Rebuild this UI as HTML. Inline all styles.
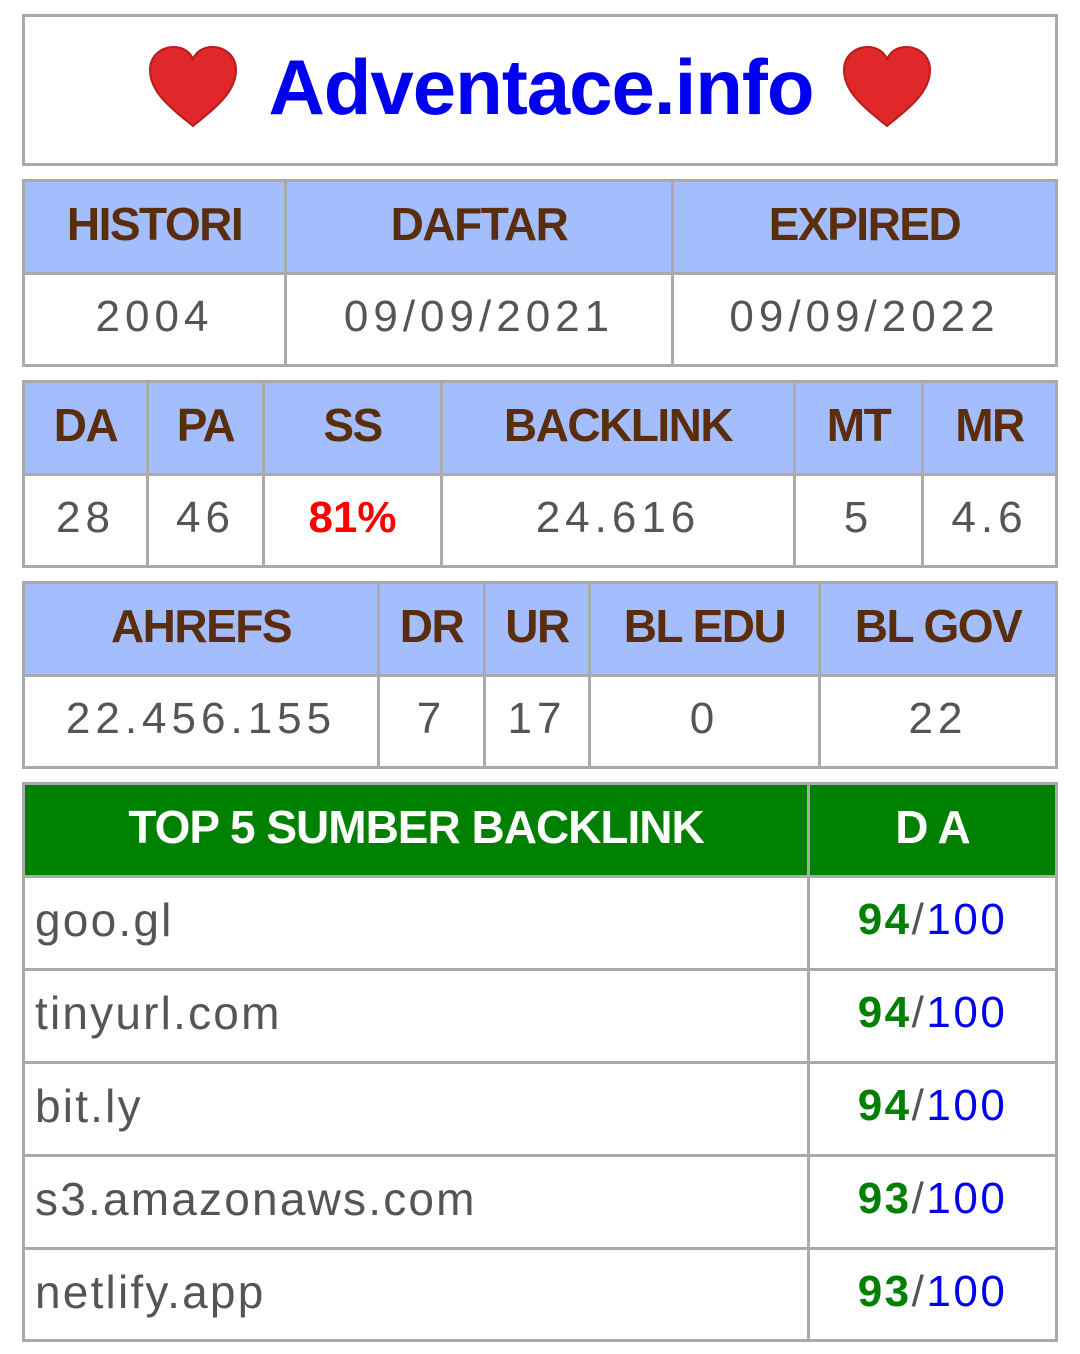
<!DOCTYPE html>
<html><head><meta charset="utf-8"><style>
html,body{margin:0;padding:0;background:#fff;width:1080px;height:1354px;overflow:hidden}
.c{position:absolute;box-sizing:border-box;border:3px solid #aaa;display:flex;align-items:center;justify-content:center;font-family:"Liberation Sans",sans-serif;white-space:nowrap;padding-bottom:6px}
.h{background:#a4bdfc;color:#5a2d0c;font-weight:bold;font-size:46px;letter-spacing:-1.5px}
.d{background:#fff;color:#555;font-size:44px;letter-spacing:5px}
.g{background:#008000;color:#fff;font-weight:bold;font-size:46px;letter-spacing:-1px}
.l{justify-content:flex-start;padding-left:10px;letter-spacing:2.2px;font-size:46px}
.v{letter-spacing:2.5px}
.v b{color:#008000}.v i{font-style:normal;color:#0000ee}.v s{text-decoration:none;color:#555}
</style></head><body>
<div class="c" style="left:22px;top:14px;width:1036px;height:152px">
<svg width="90" height="82" viewBox="0 0 90 82" style="margin-right:30px"><path d="M45 80 C20 60 2 45 2 24 C2 10 13 1 26 1 C35 1 42 6 45 13 C48 6 55 1 64 1 C77 1 88 10 88 24 C88 45 70 60 45 80Z" fill="#e0282a" stroke="#b81c1c" stroke-width="2"/></svg>
<span style="color:#0000ee;font-weight:bold;font-size:78px;letter-spacing:-1px">Adventace.info</span>
<svg width="90" height="82" viewBox="0 0 90 82" style="margin-left:28px"><path d="M45 80 C20 60 2 45 2 24 C2 10 13 1 26 1 C35 1 42 6 45 13 C48 6 55 1 64 1 C77 1 88 10 88 24 C88 45 70 60 45 80Z" fill="#e0282a" stroke="#b81c1c" stroke-width="2"/></svg>
</div>

<div class="c h" style="left:22px;top:179px;width:265px;height:96px">HISTORI</div>
<div class="c h" style="left:284px;top:179px;width:390px;height:96px">DAFTAR</div>
<div class="c h" style="left:671px;top:179px;width:387px;height:96px">EXPIRED</div>
<div class="c d" style="left:22px;top:272px;width:265px;height:95px">2004</div>
<div class="c d" style="left:284px;top:272px;width:390px;height:95px">09/09/2021</div>
<div class="c d" style="left:671px;top:272px;width:387px;height:95px">09/09/2022</div>

<div class="c h" style="left:22px;top:380px;width:127px;height:96px">DA</div>
<div class="c h" style="left:146px;top:380px;width:119px;height:96px">PA</div>
<div class="c h" style="left:262px;top:380px;width:181px;height:96px">SS</div>
<div class="c h" style="left:440px;top:380px;width:356px;height:96px">BACKLINK</div>
<div class="c h" style="left:793px;top:380px;width:131px;height:96px">MT</div>
<div class="c h" style="left:921px;top:380px;width:137px;height:96px">MR</div>
<div class="c d" style="left:22px;top:473px;width:127px;height:95px">28</div>
<div class="c d" style="left:146px;top:473px;width:119px;height:95px">46</div>
<div class="c d" style="left:262px;top:473px;width:181px;height:95px;color:#f00;font-weight:bold;letter-spacing:0">81%</div>
<div class="c d" style="left:440px;top:473px;width:356px;height:95px">24.616</div>
<div class="c d" style="left:793px;top:473px;width:131px;height:95px">5</div>
<div class="c d" style="left:921px;top:473px;width:137px;height:95px">4.6</div>

<div class="c h" style="left:22px;top:581px;width:358px;height:96px">AHREFS</div>
<div class="c h" style="left:377px;top:581px;width:109px;height:96px">DR</div>
<div class="c h" style="left:483px;top:581px;width:108px;height:96px">UR</div>
<div class="c h" style="left:588px;top:581px;width:233px;height:96px">BL EDU</div>
<div class="c h" style="left:818px;top:581px;width:240px;height:96px">BL GOV</div>
<div class="c d" style="left:22px;top:674px;width:358px;height:95px">22.456.155</div>
<div class="c d" style="left:377px;top:674px;width:109px;height:95px">7</div>
<div class="c d" style="left:483px;top:674px;width:108px;height:95px">17</div>
<div class="c d" style="left:588px;top:674px;width:233px;height:95px">0</div>
<div class="c d" style="left:818px;top:674px;width:240px;height:95px">22</div>

<div class="c g" style="left:22px;top:782px;width:788px;height:96px">TOP 5 SUMBER BACKLINK</div>
<div class="c g" style="left:807px;top:782px;width:251px;height:96px">D A</div>

<div class="c d l" style="left:22px;top:875px;width:788px;height:96px">goo.gl</div>
<div class="c d v" style="left:807px;top:875px;width:251px;height:96px"><b>94</b><s>/</s><i>100</i></div>
<div class="c d l" style="left:22px;top:968px;width:788px;height:96px">tinyurl.com</div>
<div class="c d v" style="left:807px;top:968px;width:251px;height:96px"><b>94</b><s>/</s><i>100</i></div>
<div class="c d l" style="left:22px;top:1061px;width:788px;height:96px">bit.ly</div>
<div class="c d v" style="left:807px;top:1061px;width:251px;height:96px"><b>94</b><s>/</s><i>100</i></div>
<div class="c d l" style="left:22px;top:1154px;width:788px;height:96px">s3.amazonaws.com</div>
<div class="c d v" style="left:807px;top:1154px;width:251px;height:96px"><b>93</b><s>/</s><i>100</i></div>
<div class="c d l" style="left:22px;top:1247px;width:788px;height:95px">netlify.app</div>
<div class="c d v" style="left:807px;top:1247px;width:251px;height:95px"><b>93</b><s>/</s><i>100</i></div>
</body></html>
